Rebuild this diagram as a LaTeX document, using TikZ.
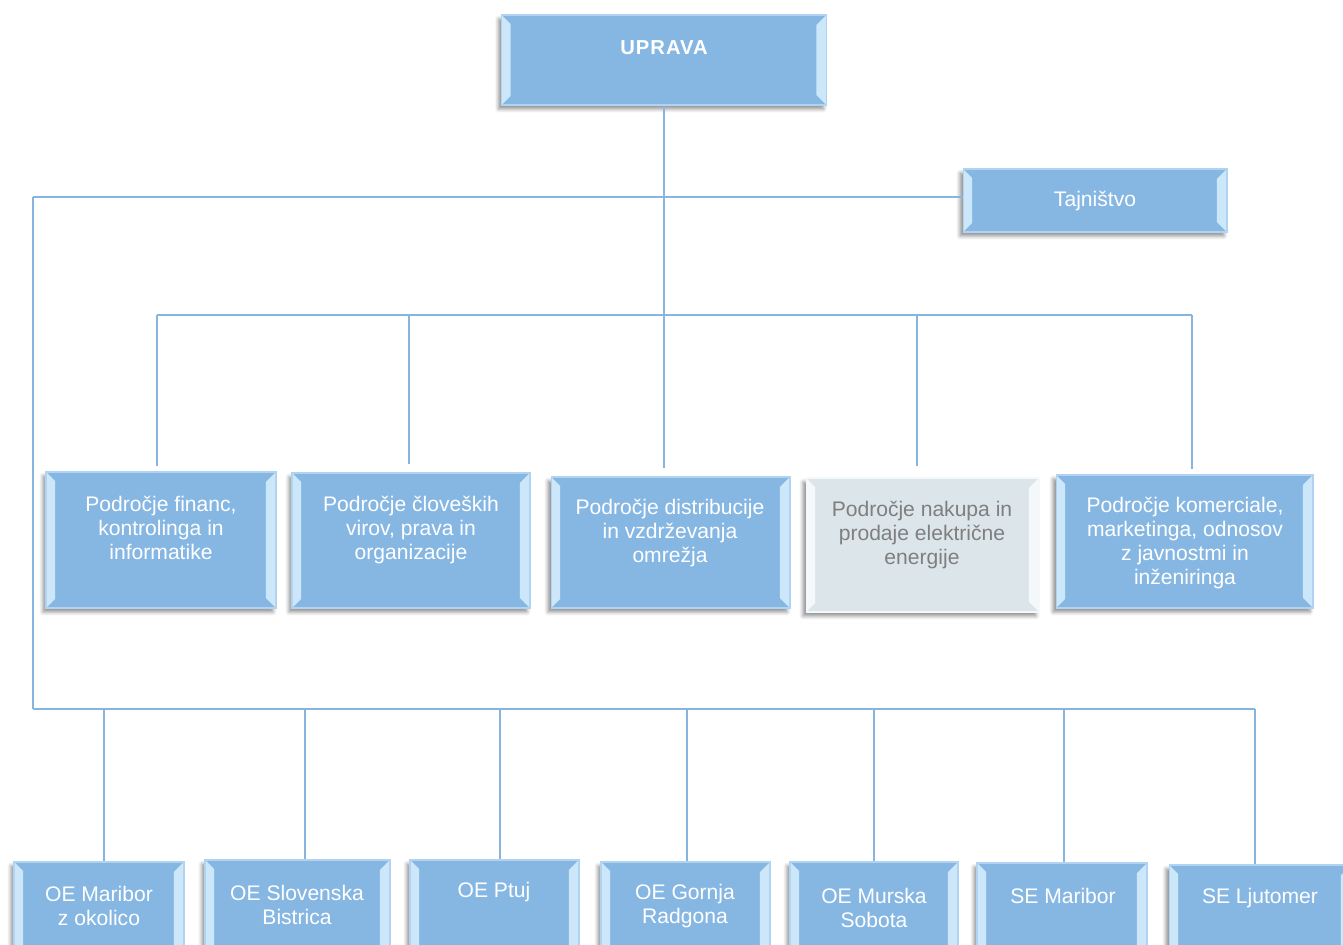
\documentclass[tikz,border=0pt]{standalone}
\usepackage{fontspec}
\setmainfont{Liberation Sans}
\usepackage{tikz}
\usetikzlibrary{shadows.blur}
\definecolor{boxblue}{HTML}{86B7E3}
\definecolor{bevelblue}{HTML}{CBE7F9}
\definecolor{rimblue}{HTML}{AFD3F1}
\definecolor{linkblue}{HTML}{88B5E0}
\definecolor{boxgray}{HTML}{DCE6EA}
\definecolor{bevelgray}{HTML}{F4F8FA}
\definecolor{txtgray}{HTML}{7F7F7F}

\begin{document}
\begin{tikzpicture}[x=0.02cm,y=-0.02cm,font=\fontsize{12}{13.6}\selectfont,
                    line width=1.2pt]
  \tikzstyle{box}=[rectangle,fill=boxblue,draw=rimblue,line width=0.6pt,
    blur shadow={shadow xshift=-0.06cm,shadow yshift=-0.08cm,
                 shadow blur steps=6,shadow opacity=45},
    path picture={
      \fill[bevel] (path picture bounding box.north west) -- ++(0.18cm,-0.18cm)
        -- ([shift={(0.18cm,0.18cm)}]path picture bounding box.south west)
        -- (path picture bounding box.south west) -- cycle;
      \fill[bevel] (path picture bounding box.north east) -- ++(-0.2cm,-0.2cm)
        -- ([shift={(-0.2cm,0.2cm)}]path picture bounding box.south east)
        -- (path picture bounding box.south east) -- cycle;}]
  \tikzstyle{bevel}=[bevelblue]
  \tikzstyle{gray box}=[box,fill=boxgray,draw=bevelgray,bevel/.style={bevelgray}]
  \tikzstyle{txt}=[align=center,text=white,inner sep=0pt]
  \tikzstyle{link}=[draw=linkblue]

  \useasboundingbox (0,0) rectangle (1343,945);

  % vodstvo
  \node[box,minimum width=6.5cm,minimum height=1.8cm]   (upr) at (664,60)  {};
  \node[txt,font=\fontsize{11.5}{13}\selectfont\bfseries\addfontfeature{LetterSpace=5}]
                                                         (upr-t) at (664,48) {UPRAVA};
  \node[box,minimum width=5.28cm,minimum height=1.26cm] (taj) at (1095,200.5) {};
  \node[txt]                                             (taj-t) at (1095,201) {Tajništvo};

  % podrocja
  \node[box,minimum width=4.6cm,minimum height=2.72cm]  (fin) at (161,540)    {};
  \node[box,minimum width=4.76cm,minimum height=2.7cm]  (clo) at (411,540.5)  {};
  \node[box,minimum width=4.78cm,minimum height=2.62cm] (dis) at (670.5,542.5) {};
  \node[gray box,minimum width=4.66cm,minimum height=2.68cm] (nak) at (922.5,545) {};
  \node[box,minimum width=5.14cm,minimum height=2.66cm] (kom) at (1184.5,541.5) {};
  \node[txt] (fin-t) at (161,528)  {Področje financ,\\kontrolinga in\\informatike};
  \node[txt] (clo-t) at (411,530)  {Področje človeških\\virov, prava in\\organizacije};
  \node[txt] (dis-t) at (670,533)  {Področje distribucije\\in vzdrževanja\\omrežja};
  \node[txt,text=txtgray] (nak-t) at (922,535) {Področje nakupa in\\prodaje električne\\energije};
  \node[txt] (kom-t) at (1185,543) {Področje komerciale,\\marketinga, odnosov\\z javnostmi in\\inženiringa};

  % enote
  \node[box,minimum width=3.4cm,minimum height=2cm]   (mb) at (99,912)    {};
  \node[box,minimum width=3.7cm,minimum height=2cm]   (sb) at (297.5,910) {};
  \node[box,minimum width=3.38cm,minimum height=2cm]  (pt) at (494.5,910) {};
  \node[box,minimum width=3.38cm,minimum height=2cm]  (gr) at (685.5,912) {};
  \node[box,minimum width=3.36cm,minimum height=2cm]  (ms) at (874,912)   {};
  \node[box,minimum width=3.4cm,minimum height=2cm]   (sm) at (1062,913)  {};
  \node[box,minimum width=3.64cm,minimum height=2cm]  (sl) at (1260,915)  {};
  \node[txt] (mb-t) at (99,906)    {OE Maribor\\z okolico};
  \node[txt] (sb-t) at (297,905)   {OE Slovenska\\Bistrica};
  \node[txt] (pt-t) at (494,892)   {OE Ptuj};
  \node[txt] (gr-t) at (685,906)   {OE Gornja\\Radgona};
  \node[txt] (ms-t) at (874,908)   {OE Murska\\Sobota};
  \node[txt] (sm-t) at (1063,896)  {SE Maribor};
  \node[txt] (sl-t) at (1260,898)  {SE Ljutomer};

  % vozlisca
  \coordinate (tl)   at (33,197);
  \coordinate (bl)   at (33,709);
  \coordinate (br)   at (1255,709);
  \coordinate (ml)   at (157,315);
  \coordinate (mc)   at (409,315);
  \coordinate (mn)   at (917,315);
  \coordinate (mr)   at (1192,315);
  \coordinate (dend) at (664,468);
  \coordinate (b1)   at (104,709);
  \coordinate (b2)   at (305,709);
  \coordinate (b3)   at (500,709);
  \coordinate (b4)   at (687,709);
  \coordinate (b6)   at (1064,709);

  \path[link] (upr.south) edge (upr.south |- dend)
              (taj.west |- tl) edge (tl)
              (tl) edge (bl)
              (bl) edge (br)
              (ml) edge (mr)
              (ml) edge[shorten >=0.1cm] (ml |- fin.north)
              (mc) edge[shorten >=0.16cm] (mc |- clo.north)
              (mn) edge[shorten >=0.22cm] (mn |- nak.north)
              (mr) edge[shorten >=0.1cm] (mr |- kom.north)
              (b1) edge (b1 |- mb.north)
              (b2) edge (b2 |- sb.north)
              (b3) edge (b3 |- pt.north)
              (b4) edge (b4 |- gr.north)
              (ms.north |- bl) edge (ms.north)
              (b6) edge (b6 |- sm.north)
              (br) edge (br |- sl.north);
\end{tikzpicture}
\end{document}
